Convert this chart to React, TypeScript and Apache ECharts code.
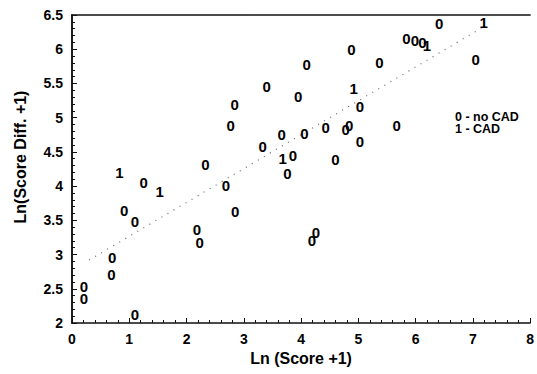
import React, { useEffect, useRef } from "react";
import * as echarts from "echarts";

// Points labelled "0" (no CAD): [Ln(Score+1), Ln(Score Diff.+1)]
const noCadPoints: number[][] = [
  [0.21, 2.53], [0.21, 2.36], [0.70, 2.95], [0.69, 2.71], [0.91, 3.65],
  [1.10, 3.48], [1.25, 4.05], [1.10, 2.13], [2.33, 4.32], [2.18, 3.36],
  [2.23, 3.18], [2.69, 4.01], [2.85, 3.63], [2.84, 5.19], [2.77, 4.88],
  [3.33, 4.58], [3.40, 5.45], [3.66, 4.75], [3.86, 4.45], [3.76, 4.19],
  [3.95, 5.31], [4.06, 4.77], [4.10, 5.77], [4.19, 3.21], [4.26, 3.32],
  [4.43, 4.86], [4.60, 4.39], [4.78, 4.82], [4.84, 4.88], [4.88, 5.99],
  [5.03, 5.16], [5.03, 4.65], [5.37, 5.80], [5.67, 4.89], [5.84, 6.15],
  [5.99, 6.13], [6.12, 6.10], [6.41, 6.38], [7.05, 5.85],
];

// Points labelled "1" (CAD)
const cadPoints: number[][] = [
  [0.83, 4.20], [1.53, 3.92], [3.68, 4.40], [4.92, 5.43], [6.20, 6.05], [7.19, 6.39],
];

// Fitted (dotted) regression line end points
const fitLine: number[][] = [
  [0.3, 2.92],
  [7.15, 6.31],
];

const legendLines: string[] = ["0 - no CAD", "1 - CAD"];
const xTitle = "Ln (Score +1)";
const yTitle = "Ln(Score Diff. +1)";

const FONT = "'Liberation Sans', Arial, sans-serif";

export default function App() {
  const ref = useRef<HTMLDivElement>(null);

  useEffect(() => {
    if (!ref.current) return;
    const chart = echarts.init(ref.current, null, { renderer: "svg" });

    const markerLabel = (txt: string) => ({
      show: true,
      position: "inside" as const,
      formatter: txt,
      color: "#000",
      opacity: 1,
      textBorderWidth: 0,
      fontFamily: FONT,
      fontWeight: "bold" as const,
      fontSize: 15,
    });

    const axisLine = { show: true, lineStyle: { color: "#111", width: 1.5 } };
    const tickStyle = { lineStyle: { color: "#111", width: 1 } };
    const labelStyle = {
      fontFamily: FONT,
      fontWeight: "bold" as const,
      fontSize: 14,
      color: "#000",
    };

    chart.setOption({
      animation: false,
      backgroundColor: "#fff",
      grid: {
        left: 72,
        right: 1,
        top: 15,
        bottom: 51,
      },
      xAxis: [
        {
          type: "value",
          min: 0,
          max: 8,
          interval: 1,
          name: xTitle,
          nameLocation: "middle",
          nameGap: 27,
          nameTextStyle: { fontFamily: FONT, fontWeight: "bold", fontSize: 16, color: "#000" },
          axisLine,
          axisTick: { show: true, inside: true, length: 5, ...tickStyle },
          minorTick: { show: true, splitNumber: 5, length: 3, ...tickStyle },
          splitLine: { show: false },
          axisLabel: { ...labelStyle, margin: 9 },
        },
        {
          type: "value",
          position: "top",
          min: 0,
          max: 8,
          interval: 1,
          axisLine,
          axisTick: { show: false },
          splitLine: { show: false },
          axisLabel: { show: false },
        },
      ],
      yAxis: [
        {
          type: "value",
          min: 2,
          max: 6.5,
          interval: 0.5,
          axisLine,
          axisTick: { show: true, inside: true, length: 5, ...tickStyle },
          minorTick: { show: true, splitNumber: 5, length: 3, ...tickStyle },
          splitLine: { show: false },
          axisLabel: {
            ...labelStyle,
            margin: 9,
            formatter: (v: number) => String(v),
          },
        },
        {
          type: "value",
          position: "right",
          min: 2,
          max: 6.5,
          interval: 0.5,
          axisLine,
          axisTick: { show: false },
          splitLine: { show: false },
          axisLabel: { show: false },
        },
      ],
      series: [
        {
          type: "line",
          data: fitLine,
          symbol: "none",
          silent: true,
          lineStyle: { color: "#666", width: 1.2, type: [1, 6] },
          z: 1,
        },
        {
          type: "scatter",
          data: noCadPoints,
          symbol: "circle",
          symbolSize: 0.5,
          itemStyle: { color: "#000", opacity: 1 },
          label: markerLabel("0"),
          emphasis: { disabled: true },
          z: 3,
        },
        {
          type: "scatter",
          data: cadPoints,
          symbol: "circle",
          symbolSize: 0.5,
          itemStyle: { color: "#000", opacity: 1 },
          label: markerLabel("1"),
          emphasis: { disabled: true },
          z: 3,
        },
      ],
      graphic: [
        ...legendLines.map((t, i) => ({
          type: "text",
          x: 455,
          y: 117 + i * 12,
          style: {
            text: t,
            fill: "#000",
            font: `bold 12.5px ${FONT}`,
            textVerticalAlign: "middle",
          },
        })),
        {
          type: "text",
          x: 20,
          y: 157,
          rotation: Math.PI / 2,
          style: {
            text: yTitle,
            fill: "#000",
            font: `bold 16px ${FONT}`,
            textAlign: "center",
            textVerticalAlign: "middle",
          },
        },
      ],
    });

    return () => chart.dispose();
  }, []);

  return <div ref={ref} style={{ width: 537, height: 374, position: "absolute", left: 0, top: 0 }} />;
}
